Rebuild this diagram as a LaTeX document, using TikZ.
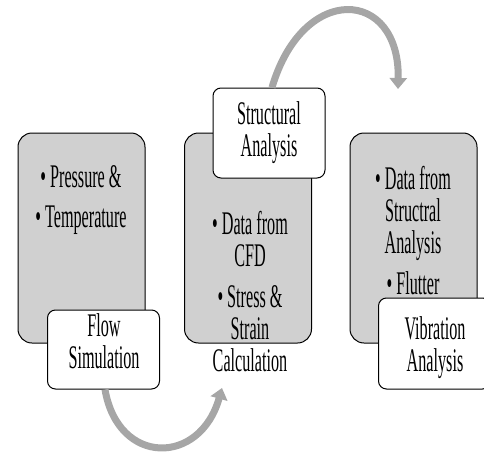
\documentclass[tikz,border=0pt]{standalone}
\usepackage{fontspec}
\newfontfamily\diagfont[FakeStretch=0.49]{Liberation Serif}
\usetikzlibrary{arrows.meta}
\definecolor{boxgray}{RGB}{208,208,208}
\definecolor{arrowgray}{RGB}{166,166,166}
\tikzset{
  stage/.style={draw=black, line width=1pt, fill=boxgray, rounded corners=14pt,
    minimum width=127pt, minimum height=210pt},
  tag/.style={draw=black, line width=1pt, fill=white, rounded corners=8pt,
    minimum width=112pt},
  txt/.style={align=center, inner sep=0pt, anchor=north,
    font=\diagfont\fontsize{33}{32}\selectfont},
  cyclearrow/.style={draw=arrowgray, line width=7pt,
    -{Triangle[width=17pt,length=11pt]}}
}

\begin{document}
\begin{tikzpicture}[x=1pt,y=-1pt]
	  \useasboundingbox (0,0) rectangle (484,452);
	  \clip (0,0) rectangle (484,452);

	  % Define stages
	  \node[stage] (flowbg)   at (81.5,238) {};
	  \node[stage] (structbg) at (248,238)  {};
	  \node[stage] (vibbg)    at (413.5,238) {};

	  % Stage contents
	  \node[txt] (flowtxt)   at (81,165)  {• Pressure \&\\[8pt]• Temperature};
	  \node[txt] (structtxt) at (250,211) {• Data from\\CFD\\[9pt]• Stress \&\\Strain\\Calculation};
	  \node[txt] (vibtxt)    at (413,166) {• Data from\\Structral\\Analysis\\[9pt]• Flutter};

	  % Tags
	  \node[tag, minimum height=79pt] (flow)   at (103.5,349.5) {};
	  \node[tag, minimum height=90pt] (struct) at (269,133)     {};
	  \node[tag, minimum height=91pt] (vib)    at (434.5,343.5) {};
	  \node[txt] at (104,313) {Flow\\Simulation};
	  \node[txt] at (269,101) {Structural\\Analysis};
	  \node[txt] at (435,316) {Vibration\\Analysis};

	  % Connect the stages
	  \coordinate (calcend) at (222,388);
	  \coordinate (vibend)  at (398,89);
	  \draw[cyclearrow] ([xshift=1.5pt]flow.south) .. controls (118,466) and (200,466) .. (calcend);
	  \draw[cyclearrow] ([xshift=3pt]struct.north) .. controls (303,-18) and (400,-12) .. (vibend);
	\end{tikzpicture}
\end{document}
